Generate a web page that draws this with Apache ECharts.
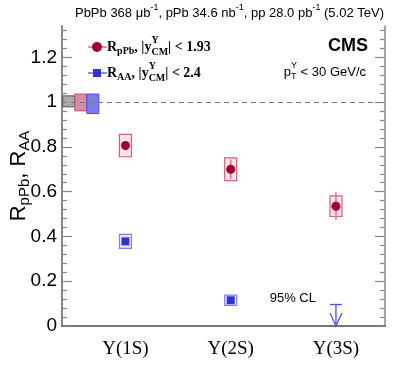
<!DOCTYPE html>
<html>
<head>
<meta charset="utf-8">
<title>Upsilon RpPb / RAA</title>
<script src="https://cdn.jsdelivr.net/npm/echarts@6/dist/echarts.min.js"></script>
<style>
  html, body { margin: 0; padding: 0; background: #fff; }
  #main { width: 399px; height: 380px; }
</style>
</head>
<body>
<div id="main"></div>
<script>
// ---- data ----
const categories = ['Υ(1S)', 'Υ(2S)', 'Υ(3S)'];
const catPos = [1, 2, 3];
const rpPb = [0.806, 0.700, 0.535];
const rpPbStat = [0.02, 0.044, 0.062];
const rpPbSyst = [0.05, 0.051, 0.046];
const raa = [0.378, 0.115];           // 1S, 2S
const raaStat = [0.008, 0.006];
const raaSyst = [0.031, 0.023];
const raaLimit3S = 0.096;             // 95% CL upper limit
// global uncertainties drawn at unity: pp (grey), pPb (red), PbPb (blue)
const globalX = [0.46, 0.575, 0.69];
const globalLo = [0.979, 0.961, 0.949];
const globalHi = [1.028, 1.036, 1.036];
const yTicks = [0, 0.2, 0.4, 0.6, 0.8, 1, 1.2];
const yMax = 1.34;

const RED = '#a0002f', RED_LINE = '#e8748f', RED_BOX = '#fde4ea', RED_EDGE = '#d0607a';
const BLUE = '#3535cc', BLUE_LINE = '#6f6ff0', BLUE_BOX = '#e8e8ff', BLUE_EDGE = '#8080ee';
const globalFill = ['#a9a9a9', '#d98ca0', '#7b7bef'];
const globalEdge = ['#555555', '#c0506a', '#4a4ae0'];

// minor ticks every 0.04
const minorTicks = [];
for (let i = 0; i * 0.04 <= yMax + 1e-9; i++) {
  if (i % 5 !== 0) minorTicks.push(+(i * 0.04).toFixed(2));
}

// ---- text helper (sub/superscripts) ----
const measureCtx = document.createElement('canvas').getContext('2d');
function textWidth(str, font) {
  measureCtx.font = font;
  return measureCtx.measureText(str).width;
}
function textLine(pieces, x0, y0, family, weight, align, extra) {
  let x = 0;
  const children = [];
  pieces.forEach((p) => {
    const parts = p.stack || [p];
    let w = 0;
    parts.forEach((q) => {
      const font = `${weight} ${q.size}px ${family}`;
      children.push({
        type: 'text', x: x, y: q.dy || 0,
        style: { text: q.t, font: font, fill: '#000', align: 'left', verticalAlign: 'middle' },
      });
      w = Math.max(w, textWidth(q.t, font));
    });
    x += w;
  });
  const shift = align === 'right' ? -x : align === 'center' ? -x / 2 : 0;
  children.forEach((c) => { c.x += shift; });
  return Object.assign({ type: 'group', x: x0, y: y0, children: children }, extra || {});
}

const SANS = '"Liberation Sans", Arial, sans-serif';
const SERIF = '"Liberation Serif", "Times New Roman", serif';

// ---- render helpers ----
function boxRender(fill, stroke, w) {
  return function (params, api) {
    const x = api.value(0);
    const hi = api.coord([x, api.value(2)]);
    const lo = api.coord([x, api.value(1)]);
    return {
      type: 'rect',
      shape: { x: hi[0] - w / 2, y: hi[1], width: w, height: lo[1] - hi[1] },
      style: { fill: fill, stroke: stroke, lineWidth: 1.2 },
    };
  };
}
function errRender(color) {
  return function (params, api) {
    const x = api.value(0);
    const hi = api.coord([x, api.value(2)]);
    const lo = api.coord([x, api.value(1)]);
    return {
      type: 'line',
      shape: { x1: hi[0], y1: hi[1], x2: lo[0], y2: lo[1] },
      style: { stroke: color, lineWidth: 1.6 },
    };
  };
}

const chart = echarts.init(document.getElementById('main'), null, { renderer: 'canvas' });

const yCommon = {
  type: 'value', min: 0, max: yMax, interval: 0.2,
  splitLine: { show: false },
  axisLabel: { show: false },
};

const option = {
  animation: false,
  backgroundColor: '#fff',
  grid: { left: 62, right: 14, top: 26, bottom: 54 },
  xAxis: [
    {
      type: 'value', min: 0.397, max: 3.466, position: 'bottom',
      axisLine: { lineStyle: { color: '#000', width: 1.5 } },
      axisTick: { show: false },
      splitLine: { show: false },
      axisLabel: {
        customValues: catPos,
        formatter: (v) => categories[Math.round(v) - 1],
        fontFamily: SERIF, fontSize: 19, color: '#000', margin: 14,
      },
    },
    {
      type: 'value', min: 0.397, max: 3.466, position: 'top',
      axisLine: { lineStyle: { color: '#888', width: 1.5 } },
      axisTick: { show: false }, axisLabel: { show: false }, splitLine: { show: false },
    },
  ],
  yAxis: [
    Object.assign({}, yCommon, {
      position: 'left',
      axisLine: { show: true, lineStyle: { color: '#888', width: 2 } },
      axisTick: { inside: true, length: 10, customValues: yTicks, lineStyle: { color: '#888', width: 1.2 } },
      axisLabel: {
        show: true, customValues: yTicks, formatter: (v) => String(v),
        fontFamily: SANS, fontSize: 19, color: '#000', margin: 5,
      },
    }),
    Object.assign({}, yCommon, {
      position: 'left',
      axisLine: { show: false },
      axisTick: { inside: true, length: 5, customValues: minorTicks, lineStyle: { color: '#888', width: 1.2 } },
    }),
    Object.assign({}, yCommon, {
      position: 'right',
      axisLine: { show: true, lineStyle: { color: '#888', width: 1.5 } },
      axisTick: { inside: true, length: 10, customValues: yTicks, lineStyle: { color: '#888', width: 1.2 } },
    }),
    Object.assign({}, yCommon, {
      position: 'right',
      axisLine: { show: false },
      axisTick: { inside: true, length: 5, customValues: minorTicks, lineStyle: { color: '#888', width: 1.2 } },
    }),
  ],
  series: [
    {
      name: 'global', type: 'custom',
      renderItem: function (params, api) {
        const i = api.value(3);
        const x = api.value(0);
        const hi = api.coord([x, api.value(2)]);
        const lo = api.coord([x, api.value(1)]);
        return {
          type: 'rect',
          shape: { x: hi[0] - 6, y: hi[1], width: 12, height: lo[1] - hi[1] },
          style: { fill: globalFill[i], stroke: globalEdge[i], lineWidth: 1 },
        };
      },
      data: globalX.map((x, i) => [x, globalLo[i], globalHi[i], i]),
      z: 1,
    },
    {
      name: 'unity', type: 'scatter', data: [], z: 2,
      markLine: {
        silent: true, symbol: 'none', label: { show: false },
        lineStyle: { color: '#777', type: [5, 4], width: 1 },
        data: [{ yAxis: 1 }],
      },
    },
    {
      name: 'rpPbSyst', type: 'custom', renderItem: boxRender(RED_BOX, RED_EDGE, 12),
      data: rpPb.map((v, i) => [catPos[i], v - rpPbSyst[i], v + rpPbSyst[i]]), z: 3,
    },
    {
      name: 'raaSyst', type: 'custom', renderItem: boxRender(BLUE_BOX, BLUE_EDGE, 12),
      data: raa.map((v, i) => [catPos[i], v - raaSyst[i], v + raaSyst[i]]), z: 3,
    },
    {
      name: 'rpPbStat', type: 'custom', renderItem: errRender(RED_LINE),
      data: rpPb.map((v, i) => [catPos[i], v - rpPbStat[i], v + rpPbStat[i]]), z: 4,
    },
    {
      name: 'raaStat', type: 'custom', renderItem: errRender(BLUE_LINE),
      data: raa.map((v, i) => [catPos[i], v - raaStat[i], v + raaStat[i]]), z: 4,
    },
    {
      name: 'RpPb', type: 'scatter', symbol: 'circle', symbolSize: 9,
      itemStyle: { color: RED, opacity: 1 },
      data: rpPb.map((v, i) => [catPos[i], v]), z: 5,
    },
    {
      name: 'RAA', type: 'scatter', symbol: 'rect', symbolSize: 8,
      itemStyle: { color: BLUE, opacity: 1 },
      data: raa.map((v, i) => [catPos[i], v]), z: 5,
    },
    {
      name: 'raaLimit', type: 'custom', z: 5,
      renderItem: function (params, api) {
        const x = api.value(0);
        const top = api.coord([x, api.value(1)]);
        const bot = api.coord([x, 0]);
        const st = { stroke: '#5050e0', lineWidth: 1.3, fill: null };
        return {
          type: 'group',
          children: [
            { type: 'line', shape: { x1: top[0] - 6, y1: top[1], x2: top[0] + 6, y2: top[1] }, style: st },
            { type: 'line', shape: { x1: top[0], y1: top[1], x2: bot[0], y2: bot[1] }, style: st },
            { type: 'polyline', shape: { points: [[bot[0] - 6, bot[1] - 13], [bot[0], bot[1]], [bot[0] + 6, bot[1] - 13]] }, style: st },
            {
              type: 'text', x: top[0] - 20, y: top[1] - 6,
              style: { text: '95% CL', font: '13px ' + SANS, fill: '#000', align: 'right', verticalAlign: 'middle' },
            },
          ],
        };
      },
      data: [[catPos[2], raaLimit3S]],
    },
  ],
  graphic: [
    // header
    textLine([
      { t: 'PbPb 368 μb', size: 13 }, { t: '-1', size: 9, dy: -5 },
      { t: ', pPb 34.6 nb', size: 13 }, { t: '-1', size: 9, dy: -5 },
      { t: ', pp 28.0 pb', size: 13 }, { t: '-1', size: 9, dy: -5 },
      { t: ' (5.02 TeV)', size: 13 },
    ], 384, 13, SANS, 'normal', 'right'),
    // CMS label
    textLine([{ t: 'CMS', size: 18 }], 368, 46, SANS, 'bold', 'right'),
    textLine([
      { t: 'p', size: 13 },
      { stack: [{ t: 'Υ', size: 9, dy: -6 }, { t: 'T', size: 9, dy: 5 }] },
      { t: ' < 30 GeV/c', size: 13 },
    ], 366, 72, SANS, 'normal', 'right'),
    // legend markers
    { type: 'line', shape: { x1: 88, y1: 47, x2: 107, y2: 47 }, style: { stroke: RED_LINE, lineWidth: 1.6 } },
    { type: 'circle', shape: { cx: 97, cy: 47, r: 5 }, style: { fill: RED } },
    { type: 'line', shape: { x1: 88, y1: 73, x2: 107, y2: 73 }, style: { stroke: BLUE_LINE, lineWidth: 1.6 } },
    { type: 'rect', shape: { x: 93, y: 69, width: 8, height: 8 }, style: { fill: BLUE } },
    // legend text
    textLine([
      { t: 'R', size: 14 }, { t: 'pPb', size: 10, dy: 4 }, { t: ', |y', size: 14 },
      { stack: [{ t: 'Υ', size: 10, dy: -7 }, { t: 'CM', size: 10, dy: 5 }] },
      { t: '| < 1.93', size: 14 },
    ], 107, 47, SERIF, 'bold', 'left'),
    textLine([
      { t: 'R', size: 14 }, { t: 'AA', size: 10, dy: 4 }, { t: ', |y', size: 14 },
      { stack: [{ t: 'Υ', size: 10, dy: -7 }, { t: 'CM', size: 10, dy: 5 }] },
      { t: '| < 2.4', size: 14 },
    ], 107, 73, SERIF, 'bold', 'left'),
    // y-axis title
    textLine([
      { t: 'R', size: 22 }, { t: 'pPb', size: 15, dy: 6 },
      { t: ', R', size: 22 }, { t: 'AA', size: 15, dy: 6 },
    ], 19, 176, SANS, 'normal', 'center', { rotation: Math.PI / 2 }),
  ],
};

chart.setOption(option);
</script>
</body>
</html>
